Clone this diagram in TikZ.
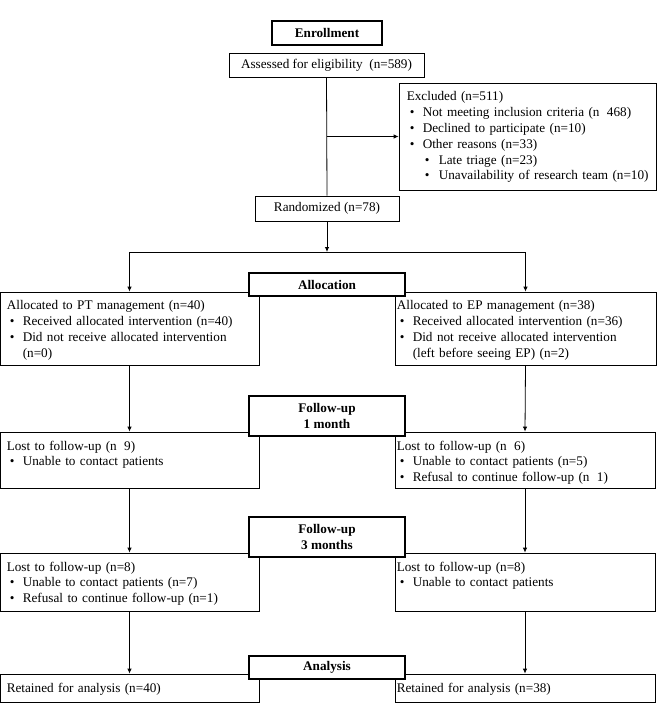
\documentclass[tikz,border=0pt]{standalone}
\usepackage{fontspec}
\setmainfont{Liberation Serif}
\usetikzlibrary{arrows.meta,fit}
\setlength{\parindent}{0pt}
\newcommand\bl[1]{\par\noindent\hspace*{3pt}\makebox[13pt][l]{\textbullet}#1}
\newcommand\blb[1]{\par\noindent\hspace*{18pt}\makebox[14pt][l]{\textbullet}#1}
\newcommand\cl[1]{\par\noindent\hspace*{16pt}#1}
\newcommand\gp{\phantom{=}}
\begin{document}
\begin{tikzpicture}[x=1pt,y=-1pt,
  every node/.style={font=\fontsize{13.2}{15.8}\selectfont},
  box/.style={draw, line width=0.8pt, inner sep=0pt, fill=white},
  hbox/.style={draw, line width=1.3pt, inner sep=0pt, fill=white},
  ctr/.style={inner sep=0pt, align=center},
  hctr/.style={inner sep=0pt, align=center, font=\fontsize{13.2}{15.8}\selectfont\bfseries},
  txt/.style={inner sep=0pt, anchor=north west, text width=258pt, align=left},
  arr/.style={-{Latex[length=5pt,width=4.5pt]}, line width=0.8pt},
  ln/.style={line width=0.8pt}]
\useasboundingbox (0,0) rectangle (668,703);

% content boxes
\node[box, fit={(229,53) (424,77)}] (assess) {};
\node[box, fit={(399,83) (656,190)}] (excl) {};
\node[box, fit={(255,196) (399,221)}] (rand) {};
\node[box, fit={(0,292) (259,365)}] (pt) {};
\node[box, fit={(395,292) (656,365)}] (ep) {};
\node[box, fit={(0,432) (259,488)}] (lostLa) {};
\node[box, fit={(395,432) (655,488)}] (lostRa) {};
\node[box, fit={(0,553) (259,611)}] (lostLb) {};
\node[box, fit={(395,553) (655,611)}] (lostRb) {};
\node[box, fit={(0,674) (259,702)}] (retL) {};
\node[box, fit={(395,674) (655,702)}] (retR) {};

% header boxes
\node[hbox, fit={(272,21) (382,45)}] (enroll) {};
\node[hbox, fit={(249,273) (405,296)}] (alloc) {};
\node[hbox, fit={(249,396) (405,436)}] (fua) {};
\node[hbox, fit={(249,517) (405,557)}] (fub) {};
\node[hbox, fit={(249,656) (405,679)}] (ana) {};

% centred texts
\node[ctr] (assessT) at (assess.center) {Assessed for eligibility\ \ (n=589)};
\node[ctr] (randT) at (rand.center) {Randomized (n=78)};
\node[hctr] (enrollT) at (enroll.center) {Enrollment};
\node[hctr] (allocT) at (alloc.center) {Allocation};
\node[hctr] (fuaT) at (fua.center) {Follow-up\\1 month};
\node[hctr] (fubT) at (fub.center) {Follow-up\\3 months};
\node[hctr] (anaT) at (ana.center) {Analysis};

% texts
\node[txt] (exclT) at ([shift={(8,9)}]excl.north west) {Excluded (n=511)%
  \bl{Not meeting inclusion criteria (n\gp 468)}%
  \bl{Declined to participate (n=10)}%
  \bl{Other reasons (n=33)}%
  \blb{Late triage (n=23)}%
  \blb{Unavailability\ of research team (n=10)}};
\node[txt] (ptT) at ([shift={(7,9)}]pt.north west) {Allocated to PT management (n=40)%
  \bl{Received allocated intervention (n=40)}%
  \bl{Did not receive allocated intervention}%
  \cl{(n=0)}};
\node[txt] (epT) at ([shift={(2,9)}]ep.north west) {Allocated to EP management (n=38)%
  \bl{Received allocated intervention (n=36)}%
  \bl{Did not receive allocated intervention}%
  \cl{(left before seeing EP) (n=2)}};
\node[txt] (lostLaT) at ([shift={(7,9)}]lostLa.north west) {Lost to follow-up (n\gp 9)%
  \bl{Unable to contact patients}};
\node[txt] (lostRaT) at ([shift={(2,9)}]lostRa.north west) {Lost to follow-up (n\gp 6)%
  \bl{Unable to contact patients (n=5)}%
  \bl{Refusal to continue follow-up (n\gp 1)}};
\node[txt] (lostLbT) at ([shift={(7,9)}]lostLb.north west) {Lost to follow-up (n=8)%
  \bl{Unable to contact patients (n=7)}%
  \bl{Refusal to continue follow-up (n=1)}};
\node[txt] (lostRbT) at ([shift={(2,9)}]lostRb.north west) {Lost to follow-up (n=8)%
  \bl{Unable to contact patients}};
\node[txt] (retLT) at ([shift={(7,9)}]retL.north west) {Retained for analysis (n=40)};
\node[txt] (retRT) at ([shift={(2,9)}]retR.north west) {Retained for analysis (n=38)};

% connectors
\coordinate (exclJ) at (assess.south |- excl.west);
\coordinate (split) at (327,252);
\draw[ln] (assess.south) -- (rand.north);
\draw[arr] (exclJ) -- (excl.west);
\draw[arr] (rand.south) -- (split);
\draw[arr] (split) -| (pt.north);
\draw[arr] (split) -| (ep.north);
\draw[arr] (pt.south) -- (lostLa.north);
\draw[arr] (ep.south) -- (lostRa.north);
\draw[arr] (lostLa.south) -- (lostLb.north);
\draw[arr] (lostRa.south) -- (lostRb.north);
\draw[arr] (lostLb.south) -- (retL.north);
\draw[arr] (lostRb.south) -- (retR.north);
\end{tikzpicture}
\end{document}
